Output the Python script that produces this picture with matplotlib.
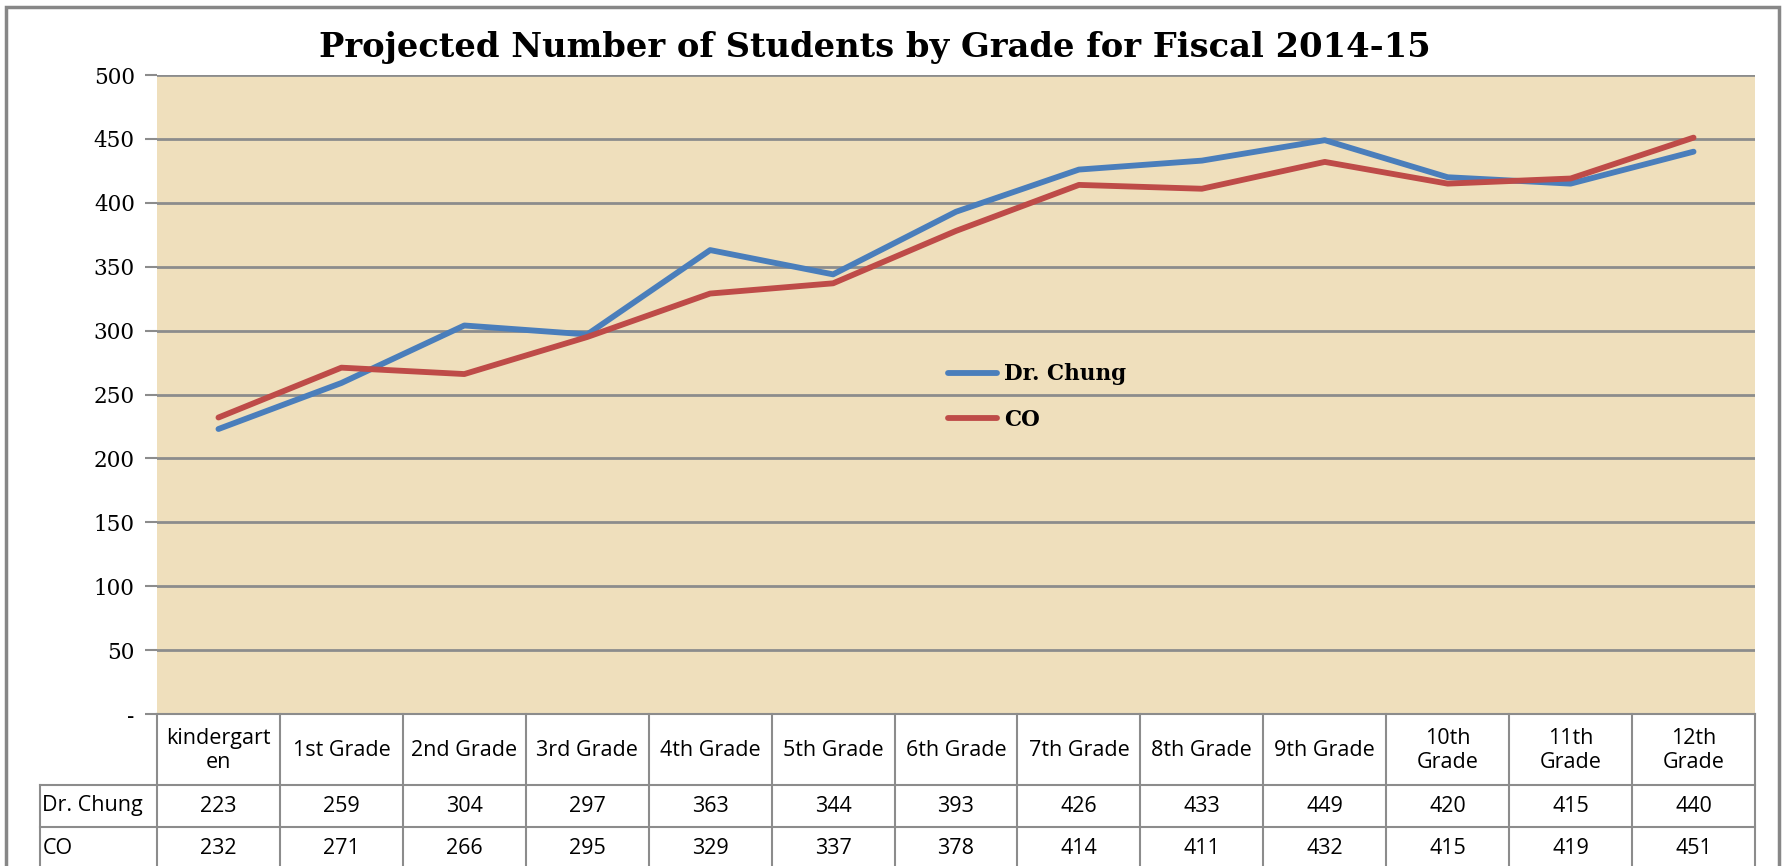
import matplotlib.pyplot as plt
from matplotlib.patches import Rectangle

# data
grades = ["kindergart\nen", "1st Grade", "2nd Grade", "3rd Grade", "4th Grade", "5th Grade",
          "6th Grade", "7th Grade", "8th Grade", "9th Grade", "10th\nGrade", "11th\nGrade", "12th\nGrade"]
chung = [223, 259, 304, 297, 363, 344, 393, 426, 433, 449, 420, 415, 440]
co = [232, 271, 266, 295, 329, 337, 378, 414, 411, 432, 415, 419, 451]
series_names = ["Dr. Chung", "CO"]
yticks = [0, 50, 100, 150, 200, 250, 300, 350, 400, 450, 500]

W, H = 1783, 866
fig = plt.figure(figsize=(W / 100, H / 100), dpi=100)
fig.patch.set_facecolor("white")

blue = "#4A7EBB"
red = "#BE4B48"
grid = "#8C8C8C"
serif = ["DejaVu Serif"]
table_font = ["Open Sans", "DejaVu Sans"]


def fx(px):
    return px / W


def fy(py):
    return 1 - py / H


# outer chart border
fig.patches.append(Rectangle((fx(6), fy(880)), fx(1779) - fx(6), fy(7) - fy(880),
                             transform=fig.transFigure, fill=False, edgecolor="#878787", lw=2.5))

left, right, top, bottom = 157, 1755, 75, 714
ax = fig.add_axes([fx(left), fy(bottom), fx(right) - fx(left), fy(top) - fy(bottom)])
ax.set_facecolor("#EFDFBC")
n = len(grades)
x = list(range(n))
ax.set_xlim(-0.5, n - 0.5)
ax.set_ylim(0, 500)
ax.set_yticks(yticks)
ax.set_yticklabels(["-" if v == 0 else str(v) for v in yticks], family=serif, fontsize=15.5)
ax.tick_params(axis="y", length=9, width=1.5, color=grid, pad=7)
ax.set_xticks([])
ax.yaxis.grid(True, color=grid, lw=2)
ax.set_axisbelow(True)
for s in ax.spines.values():
    s.set_visible(False)

ax.plot(x, chung, color=blue, lw=4.2, solid_capstyle="round", label=series_names[0])
ax.plot(x, co, color=red, lw=4.2, solid_capstyle="round", label=series_names[1])

# legend
leg = ax.legend(loc="center", bbox_to_anchor=((1037 - left) / (right - left), 1 - (397 - top) / (bottom - top)),
                frameon=False, prop={"family": serif, "weight": "bold", "size": 15.5},
                handlelength=2.3, handletextpad=0.3, labelspacing=1.1)

fig.text(fx(875), fy(47), "Projected Number of Students by Grade for Fiscal 2014-15",
         ha="center", va="center", family=serif, weight="bold", fontsize=24.3)

# data table under the chart
unit = (right - left) / n
lab_left = 40
tx0 = -0.5 - (left - lab_left) / unit
tab = fig.add_axes([fx(lab_left), 0, fx(right) - fx(lab_left), fy(bottom)])
tab.set_xlim(tx0, n - 0.5)
tab.set_ylim(H, bottom)
tab.axis("off")
rows = [bottom, 785, 827, H + 20]
lc = "#8C8C8C"
for r in rows[:-1]:
    x_start = -0.5 if r == bottom else tx0
    tab.plot([x_start, n - 0.5], [r, r], color=lc, lw=1.5, clip_on=False)
for i in range(n + 1):
    tab.plot([i - 0.5, i - 0.5], [bottom, H + 20], color=lc, lw=1.5, clip_on=False)
tab.plot([tx0, tx0], [rows[1], H + 20], color=lc, lw=1.5, clip_on=False)

fs = 15.5
for i, g in enumerate(grades):
    tab.text(i, (rows[0] + rows[1]) / 2 + 1, g, ha="center", va="center", family=table_font,
             fontsize=fs, linespacing=1.15)
for k, vals in enumerate([chung, co]):
    yc = (rows[k + 1] + min(rows[k + 2], H)) / 2 + (2 if k == 1 else 0)
    tab.text(tx0 + 0.02, yc, series_names[k], ha="left", va="center", family=table_font, fontsize=fs)
    for i, v in enumerate(vals):
        tab.text(i, yc, str(v), ha="center", va="center", family=table_font, fontsize=fs)

fig.savefig("out.png", dpi=100)
